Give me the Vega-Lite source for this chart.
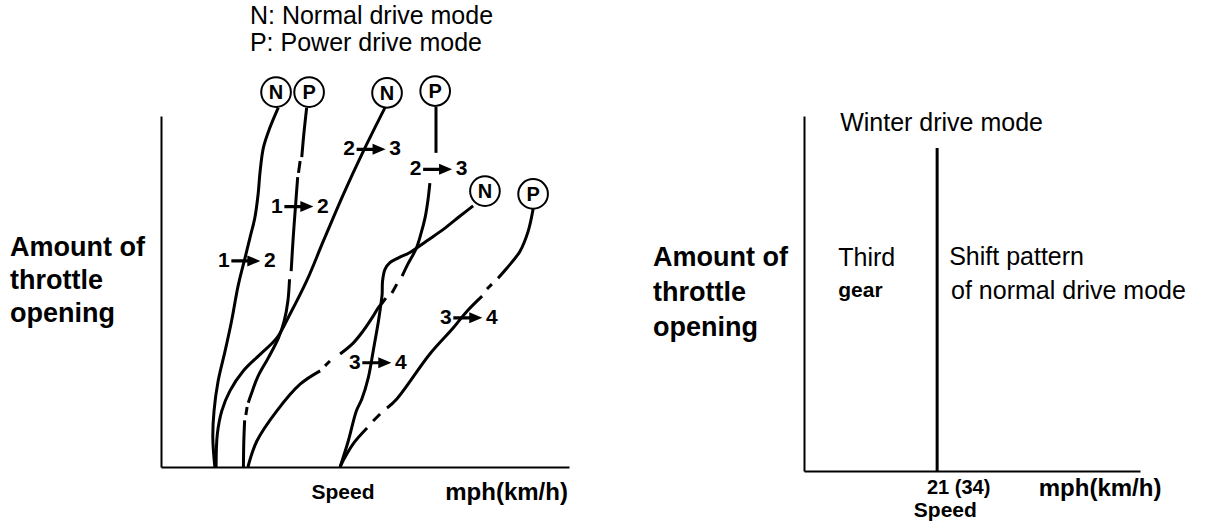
{
  "$schema": "https://vega.github.io/schema/vega-lite/v6.json",
  "padding": {"left": 10, "top": 3, "right": 0, "bottom": 0},
  "autosize": {"type": "pad"},
  "background": "white",
  "bounds": "flush",
  "spacing": 235,
  "config": {
    "view": {"stroke": null},
    "font": "Liberation Sans",
    "text": {"font": "Liberation Sans", "color": "black"},
    "axis": {"domainColor": "black", "domainWidth": 2, "ticks": false, "labels": false, "grid": false}
  },
  "datasets": {
    "curves": [
      {"seg": "N12", "i": 0, "speed": 28.75, "throttle": 102.4},
      {"seg": "N12", "i": 1, "speed": 26.7, "throttle": 96.7},
      {"seg": "N12", "i": 2, "speed": 25.1, "throttle": 91.0},
      {"seg": "N12", "i": 3, "speed": 24.3, "throttle": 84.3},
      {"seg": "N12", "i": 4, "speed": 23.8, "throttle": 77.7},
      {"seg": "N12", "i": 5, "speed": 23.0, "throttle": 71.0},
      {"seg": "N12", "i": 6, "speed": 21.8, "throttle": 65.3},
      {"seg": "N12", "i": 7, "speed": 20.6, "throttle": 59.6},
      {"seg": "N12", "i": 8, "speed": 18.9, "throttle": 51.6},
      {"seg": "N12", "i": 9, "speed": 17.3, "throttle": 41.6},
      {"seg": "N12", "i": 10, "speed": 15.7, "throttle": 33.0},
      {"seg": "N12", "i": 11, "speed": 14.0, "throttle": 24.5},
      {"seg": "N12", "i": 12, "speed": 13.0, "throttle": 16.0},
      {"seg": "N12", "i": 13, "speed": 12.7, "throttle": 8.3},
      {"seg": "N12", "i": 14, "speed": 13.2, "throttle": 0},

      {"seg": "N23", "i": 0, "speed": 54.9, "throttle": 102.4},
      {"seg": "N23", "i": 1, "speed": 49.6, "throttle": 90.0},
      {"seg": "N23", "i": 2, "speed": 44.7, "throttle": 77.7},
      {"seg": "N23", "i": 3, "speed": 39.8, "throttle": 64.4},
      {"seg": "N23", "i": 4, "speed": 35.7, "throttle": 53.0},
      {"seg": "N23", "i": 5, "speed": 31.6, "throttle": 43.5},
      {"seg": "N23", "i": 6, "speed": 28.4, "throttle": 36.8},
      {"seg": "N23", "i": 7, "speed": 24.3, "throttle": 32.1},
      {"seg": "N23", "i": 8, "speed": 20.2, "throttle": 27.4},
      {"seg": "N23", "i": 9, "speed": 16.9, "throttle": 21.7},
      {"seg": "N23", "i": 10, "speed": 14.9, "throttle": 16.0},
      {"seg": "N23", "i": 11, "speed": 13.8, "throttle": 9.3},
      {"seg": "N23", "i": 12, "speed": 13.5, "throttle": 0},

      {"seg": "P12a", "i": 0, "speed": 35.7, "throttle": 102.4},
      {"seg": "P12a", "i": 1, "speed": 35.0, "throttle": 94.8},
      {"seg": "P12a", "i": 2, "speed": 34.5, "throttle": 88.3},
      {"seg": "P12b", "i": 0, "speed": 34.1, "throttle": 87.2},
      {"seg": "P12b", "i": 1, "speed": 33.7, "throttle": 83.8},
      {"seg": "P12c", "i": 0, "speed": 33.5, "throttle": 82.6},
      {"seg": "P12c", "i": 1, "speed": 33.0, "throttle": 74.8},
      {"seg": "P12c", "i": 2, "speed": 32.4, "throttle": 65.3},
      {"seg": "P12c", "i": 3, "speed": 31.9, "throttle": 55.8},
      {"seg": "P12d", "i": 0, "speed": 31.5, "throttle": 53.5},
      {"seg": "P12d", "i": 1, "speed": 31.1, "throttle": 47.3},
      {"seg": "P12d", "i": 2, "speed": 30.2, "throttle": 41.6},
      {"seg": "P12d", "i": 3, "speed": 28.8, "throttle": 36.8},
      {"seg": "P12d", "i": 4, "speed": 26.3, "throttle": 31.1},
      {"seg": "P12d", "i": 5, "speed": 23.8, "throttle": 25.9},
      {"seg": "P12d", "i": 6, "speed": 22.1, "throttle": 20.7},
      {"seg": "P12d", "i": 7, "speed": 21.4, "throttle": 18.3},
      {"seg": "P12e", "i": 0, "speed": 21.1, "throttle": 17.1},
      {"seg": "P12e", "i": 1, "speed": 20.8, "throttle": 14.8},
      {"seg": "P12f", "i": 0, "speed": 20.5, "throttle": 13.3},
      {"seg": "P12f", "i": 1, "speed": 20.3, "throttle": 7.4},
      {"seg": "P12f", "i": 2, "speed": 20.2, "throttle": 0},

      {"seg": "P23a", "i": 0, "speed": 67.4, "throttle": 102.6},
      {"seg": "P23a", "i": 1, "speed": 67.4, "throttle": 95.7},
      {"seg": "P23a", "i": 2, "speed": 67.4, "throttle": 89.5},
      {"seg": "P23b", "i": 0, "speed": 65.9, "throttle": 80.9},
      {"seg": "P23b", "i": 1, "speed": 65.4, "throttle": 75.8},
      {"seg": "P23b", "i": 2, "speed": 64.7, "throttle": 70.9},
      {"seg": "P23b", "i": 3, "speed": 63.7, "throttle": 66.4},
      {"seg": "P23b", "i": 4, "speed": 62.5, "throttle": 62.1},
      {"seg": "P23b", "i": 5, "speed": 60.5, "throttle": 57.8},
      {"seg": "P23b", "i": 6, "speed": 59.1, "throttle": 54.4},
      {"seg": "P23c", "i": 0, "speed": 57.8, "throttle": 52.1},
      {"seg": "P23c", "i": 1, "speed": 56.6, "throttle": 49.6},
      {"seg": "P23d", "i": 0, "speed": 55.1, "throttle": 48.1},
      {"seg": "P23d", "i": 1, "speed": 54.2, "throttle": 46.7},
      {"seg": "P23d", "i": 2, "speed": 53.2, "throttle": 45.3},
      {"seg": "P23d", "i": 3, "speed": 52.0, "throttle": 43.0},
      {"seg": "P23d", "i": 4, "speed": 49.5, "throttle": 38.7},
      {"seg": "P23d", "i": 5, "speed": 47.1, "throttle": 35.3},
      {"seg": "P23d", "i": 6, "speed": 43.9, "throttle": 32.2},
      {"seg": "P23e", "i": 0, "speed": 41.4, "throttle": 30.2},
      {"seg": "P23e", "i": 1, "speed": 40.2, "throttle": 28.8},
      {"seg": "P23f", "i": 0, "speed": 39.0, "throttle": 27.4},
      {"seg": "P23f", "i": 1, "speed": 34.1, "throttle": 23.6},
      {"seg": "P23f", "i": 2, "speed": 28.4, "throttle": 16.0},
      {"seg": "P23f", "i": 3, "speed": 23.5, "throttle": 7.4},
      {"seg": "P23f", "i": 4, "speed": 21.3, "throttle": 0},

      {"seg": "N34", "i": 0, "speed": 76.5, "throttle": 74.4},
      {"seg": "N34", "i": 1, "speed": 73.3, "throttle": 71.5},
      {"seg": "N34", "i": 2, "speed": 69.2, "throttle": 67.7},
      {"seg": "N34", "i": 3, "speed": 65.1, "throttle": 64.4},
      {"seg": "N34", "i": 4, "speed": 61.0, "throttle": 61.1},
      {"seg": "N34", "i": 5, "speed": 58.2, "throttle": 59.6},
      {"seg": "N34", "i": 6, "speed": 56.1, "throttle": 58.2},
      {"seg": "N34", "i": 7, "speed": 54.9, "throttle": 56.3},
      {"seg": "N34", "i": 8, "speed": 54.3, "throttle": 53.0},
      {"seg": "N34", "i": 9, "speed": 54.2, "throttle": 49.2},
      {"seg": "N34", "i": 10, "speed": 53.9, "throttle": 46.4},
      {"seg": "N34", "i": 11, "speed": 53.3, "throttle": 41.6},
      {"seg": "N34", "i": 12, "speed": 52.0, "throttle": 33.0},
      {"seg": "N34", "i": 13, "speed": 50.8, "throttle": 25.4},
      {"seg": "N34", "i": 14, "speed": 49.2, "throttle": 19.3},
      {"seg": "N34", "i": 15, "speed": 47.9, "throttle": 16.0},
      {"seg": "N34", "i": 16, "speed": 45.9, "throttle": 7.4},
      {"seg": "N34", "i": 17, "speed": 43.9, "throttle": 0},

      {"seg": "P34a", "i": 0, "speed": 91.2, "throttle": 73.5},
      {"seg": "P34a", "i": 1, "speed": 90.0, "throttle": 67.2},
      {"seg": "P34a", "i": 2, "speed": 88.0, "throttle": 61.5},
      {"seg": "P34a", "i": 3, "speed": 84.8, "throttle": 56.7},
      {"seg": "P34a", "i": 4, "speed": 82.6, "throttle": 53.8},
      {"seg": "P34b", "i": 0, "speed": 81.1, "throttle": 52.1},
      {"seg": "P34b", "i": 1, "speed": 79.9, "throttle": 50.7},
      {"seg": "P34c", "i": 0, "speed": 78.7, "throttle": 48.7},
      {"seg": "P34c", "i": 1, "speed": 75.0, "throttle": 44.4},
      {"seg": "P34c", "i": 2, "speed": 71.6, "throttle": 39.6},
      {"seg": "P34c", "i": 3, "speed": 65.9, "throttle": 32.2},
      {"seg": "P34c", "i": 4, "speed": 57.8, "throttle": 19.4},
      {"seg": "P34c", "i": 5, "speed": 55.4, "throttle": 16.8},
      {"seg": "P34d", "i": 0, "speed": 53.7, "throttle": 15.1},
      {"seg": "P34d", "i": 1, "speed": 52.0, "throttle": 13.1},
      {"seg": "P34e", "i": 0, "speed": 50.5, "throttle": 11.1},
      {"seg": "P34e", "i": 1, "speed": 47.1, "throttle": 6.6},
      {"seg": "P34e", "i": 2, "speed": 44.6, "throttle": 1.7},
      {"seg": "P34e", "i": 3, "speed": 43.9, "throttle": 0}
    ],
    "modes": [
      {"mode": "N", "speed": 28.2, "throttle": 106.8},
      {"mode": "P", "speed": 36.3, "throttle": 106.8},
      {"mode": "N", "speed": 55.4, "throttle": 106.6},
      {"mode": "P", "speed": 67.2, "throttle": 107.1},
      {"mode": "N", "speed": 79.4, "throttle": 78.6},
      {"mode": "P", "speed": 91.2, "throttle": 77.8}
    ],
    "shifts": [
      {"from": "1", "to": "2", "speed": 20.8, "throttle": 58.7},
      {"from": "1", "to": "2", "speed": 33.8, "throttle": 74.2},
      {"from": "2", "to": "3", "speed": 51.5, "throttle": 90.5},
      {"from": "2", "to": "3", "speed": 67.8, "throttle": 84.8},
      {"from": "3", "to": "4", "speed": 52.9, "throttle": 29.7},
      {"from": "3", "to": "4", "speed": 75.2, "throttle": 42.5}
    ]
  },
  "hconcat": [
    {
      "width": 408,
      "height": 351,
      "encoding": {
        "x": {"field": "speed", "type": "quantitative", "scale": {"domain": [0, 100], "nice": false, "zero": false}, "axis": {"title": null, "labels": false, "ticks": false, "grid": false}},
        "y": {"field": "throttle", "type": "quantitative", "scale": {"domain": [0, 100], "nice": false, "zero": false}, "axis": {"title": null, "labels": false, "ticks": false, "grid": false}}
      },
      "layer": [
        {
          "data": {"name": "curves"},
          "mark": {"type": "line", "color": "black", "strokeWidth": 3, "interpolate": "catmull-rom", "strokeCap": "butt"},
          "encoding": {"detail": {"field": "seg"}, "order": {"field": "i", "type": "quantitative"}}
        },
        {
          "data": {"name": "modes"},
          "mark": {"type": "point", "shape": "circle", "filled": true, "fill": "white", "stroke": "black", "strokeWidth": 2, "size": 880, "opacity": 1}
        },
        {
          "data": {"name": "modes"},
          "mark": {"type": "text", "fontSize": 20, "fontWeight": "bold", "align": "center", "baseline": "middle", "dy": 1},
          "encoding": {"text": {"field": "mode"}}
        },
        {
          "data": {"name": "shifts"},
          "mark": {"type": "point", "shape": "M-1,-0.11L0.1,-0.11L0.1,-0.38L1,0L0.1,0.38L0.1,0.11L-1,0.11Z", "filled": true, "color": "black", "strokeWidth": 0, "size": 841, "opacity": 1}
        },
        {
          "data": {"name": "shifts"},
          "mark": {"type": "text", "fontSize": 21, "fontWeight": "bold", "align": "center", "baseline": "middle", "dx": -22},
          "encoding": {"text": {"field": "from"}}
        },
        {
          "data": {"name": "shifts"},
          "mark": {"type": "text", "fontSize": 21, "fontWeight": "bold", "align": "center", "baseline": "middle", "dx": 24},
          "encoding": {"text": {"field": "to"}}
        },
        {
          "data": {"values": [
            {"t": "N: Normal drive mode", "speed": 21.8, "throttle": 128.5},
            {"t": "P: Power drive mode", "speed": 21.8, "throttle": 120.8}
          ]},
          "mark": {"type": "text", "fontSize": 25, "align": "left", "baseline": "middle"},
          "encoding": {"text": {"field": "t"}}
        },
        {
          "data": {"values": [{"t": "Amount of\nthrottle\nopening", "speed": -37.0, "throttle": 62.5}]},
          "mark": {"type": "text", "fontSize": 27, "fontWeight": "bold", "align": "left", "baseline": "middle", "lineBreak": "\n", "lineHeight": 33},
          "encoding": {"text": {"field": "t"}}
        },
        {
          "data": {"values": [{"t": "Speed", "speed": 44.6, "throttle": -7.4}]},
          "mark": {"type": "text", "fontSize": 21, "fontWeight": "bold", "align": "center", "baseline": "middle"},
          "encoding": {"text": {"field": "t"}}
        },
        {
          "data": {"values": [{"t": "mph(km/h)", "speed": 84.7, "throttle": -7.4}]},
          "mark": {"type": "text", "fontSize": 24, "fontWeight": "bold", "align": "center", "baseline": "middle"},
          "encoding": {"text": {"field": "t"}}
        }
      ]
    },
    {
      "width": 336,
      "height": 355,
      "encoding": {
        "x": {"field": "speed", "type": "quantitative", "scale": {"domain": [0, 53], "nice": false, "zero": false}, "axis": {"title": null, "labels": false, "ticks": false, "grid": false}},
        "y": {"field": "throttle", "type": "quantitative", "scale": {"domain": [0, 100], "nice": false, "zero": false}, "axis": {"title": null, "labels": false, "ticks": false, "grid": false}}
      },
      "layer": [
        {
          "data": {"values": [{"speed": 21, "throttle": 0, "top": 91}]},
          "mark": {"type": "rule", "color": "black", "strokeWidth": 3},
          "encoding": {"y2": {"field": "top"}}
        },
        {
          "data": {"values": [
            {"t": "Winter drive mode", "speed": 5.7, "throttle": 98.0},
            {"t": "Third", "speed": 5.4, "throttle": 60.0},
            {"t": "Shift pattern", "speed": 22.9, "throttle": 60.3},
            {"t": "of normal drive mode", "speed": 23.2, "throttle": 50.7}
          ]},
          "mark": {"type": "text", "fontSize": 25, "align": "left", "baseline": "middle"},
          "encoding": {"text": {"field": "t"}}
        },
        {
          "data": {"values": [{"t": "gear", "speed": 5.4, "throttle": 50.7}]},
          "mark": {"type": "text", "fontSize": 21, "fontWeight": "bold", "align": "left", "baseline": "middle"},
          "encoding": {"text": {"field": "t"}}
        },
        {
          "data": {"values": [{"t": "Amount of\nthrottle\nopening", "speed": -23.8, "throttle": 60.0}]},
          "mark": {"type": "text", "fontSize": 27, "fontWeight": "bold", "align": "left", "baseline": "middle", "lineBreak": "\n", "lineHeight": 35},
          "encoding": {"text": {"field": "t"}}
        },
        {
          "data": {"values": [{"t": "21 (34)", "speed": 24.4, "throttle": -4.8}]},
          "mark": {"type": "text", "fontSize": 20, "fontWeight": "bold", "align": "center", "baseline": "middle"},
          "encoding": {"text": {"field": "t"}}
        },
        {
          "data": {"values": [{"t": "Speed", "speed": 22.3, "throttle": -11.3}]},
          "mark": {"type": "text", "fontSize": 21, "fontWeight": "bold", "align": "center", "baseline": "middle"},
          "encoding": {"text": {"field": "t"}}
        },
        {
          "data": {"values": [{"t": "mph(km/h)", "speed": 46.7, "throttle": -5.1}]},
          "mark": {"type": "text", "fontSize": 24, "fontWeight": "bold", "align": "center", "baseline": "middle"},
          "encoding": {"text": {"field": "t"}}
        }
      ]
    }
  ]
}
